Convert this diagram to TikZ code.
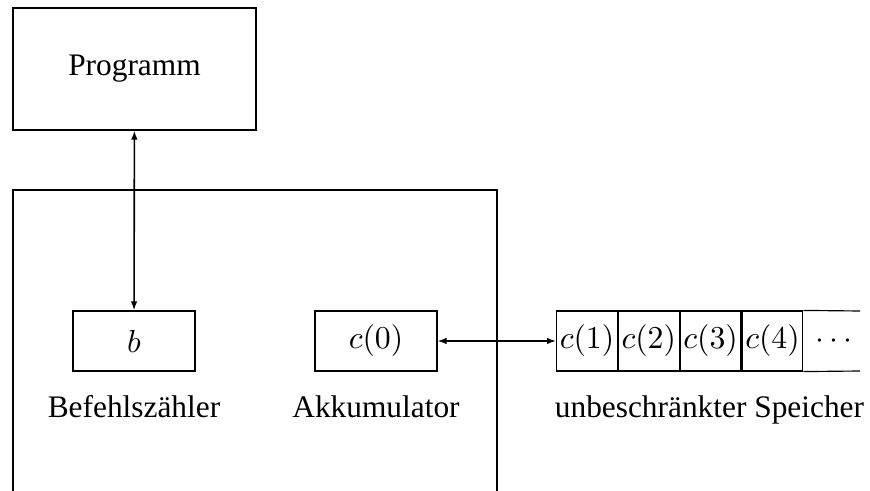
\documentclass[tikz,border=0pt]{standalone}
\usepackage{fontspec}
\setmainfont{Liberation Serif}
\usetikzlibrary{arrows.meta, positioning}

\begin{document}
\begin{tikzpicture}[
    x=0.0121cm, y=-0.0121cm,
    font=\fontsize{10.8pt}{13pt}\selectfont,
    box/.style={rectangle, draw, minimum width=1.476cm, minimum height=0.726cm, inner sep=0pt},
    cell/.style={rectangle, draw, minimum width=0.734cm, minimum height=0.726cm, inner sep=0pt},
    link/.style={{Latex[length=1.1mm,width=0.8mm]}-{Latex[length=1.1mm,width=0.8mm]}, line width=0.55pt}
]
\useasboundingbox (0,0) rectangle (870,491);

% Maschine
\draw (13,495) -- (13,190) -- (497,190) -- (497,495);

\node[box, minimum width=2.94cm, minimum height=1.476cm] (prog) at (134.5,69) {Programm};
\node[box] (befehl) at (134,341) {$b$};
\node[box] (akku) at (376,341) {$c(0)$};

\node[below=0.17cm of befehl] (befehllabel) {Befehlsz\"ahler};
\node[below=0.17cm of akku] (akkulabel) {Akkumulator};

% Speicher
\node[cell] (c1) at (587,341) {$c(1)$};
\foreach \i [remember=\i as \j (initially 1)] in {2,3,4} {
    \node[cell, right=0pt of c\j] (c\i) {$c(\i)$};
}
\node[cell, draw=none, right=0pt of c4] (dots) {$\cdots$};
\coordinate (endtop) at (860,311);
\coordinate (endbot) at (860,371);
\draw (c4.north east) -- (endtop);
\draw (c4.south east) -- (endbot);

\node[below=0.17cm of c2.south east, xshift=0.36cm] (speicher) {unbeschr\"ankter Speicher};

\draw[link] (prog) -- (befehl);
\draw[link] (akku) -- (c1);
\end{tikzpicture}
\end{document}
